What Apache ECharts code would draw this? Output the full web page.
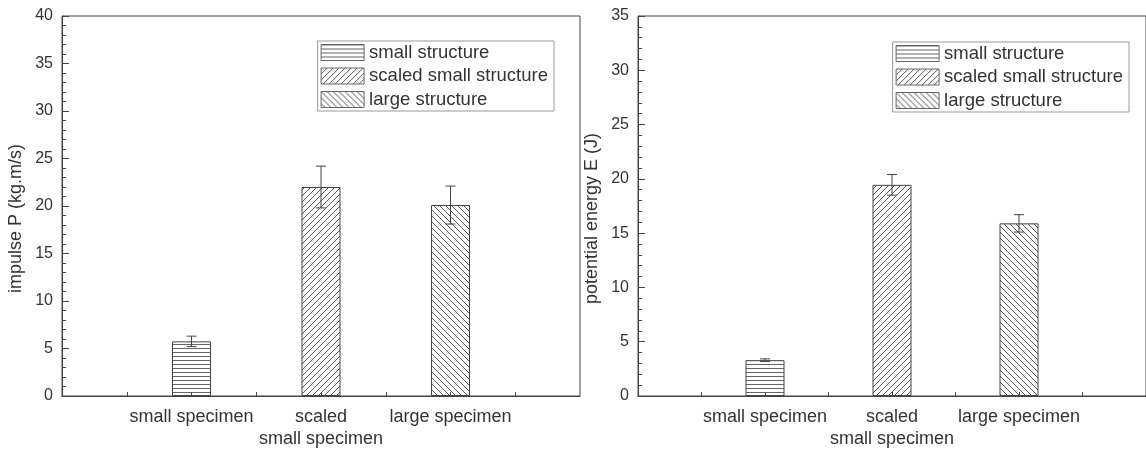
<!DOCTYPE html>
<html>
<head>
<meta charset="utf-8">
<script src="https://cdn.jsdelivr.net/npm/echarts@6/dist/echarts.min.js"></script>
<style>html,body{margin:0;padding:0;background:#fff}#c{width:1146px;height:450px}</style>
</head>
<body>
<div id="c"></div>
<script>
// ---- data ----
const categories = ['small specimen', 'scaled\nsmall specimen', 'large specimen'];
const seriesNames = ['small structure', 'scaled small structure', 'large structure'];
const impulseValues = [5.75, 22.0, 20.1];
const impulseErrors = [0.55, 2.2, 2.0];
const energyValues = [3.3, 19.45, 15.9];
const energyErrors = [0.12, 0.95, 0.8];
const impulseAxis = { min: 0, max: 40, interval: 5, name: 'impulse P (kg.m/s)' };
const energyAxis = { min: 0, max: 35, interval: 5, name: 'potential energy E (J)' };
const xRange = { min: 0, max: 4 };
const xTickValues = [0.5, 1, 1.5, 2, 2.5, 3, 3.5];

// ---- patterns ----
function makePattern(kind) {
  const s = kind === 'h' ? 4 : 6;
  const c = document.createElement('canvas');
  c.width = s; c.height = s;
  const ctx = c.getContext('2d');
  ctx.fillStyle = '#fff';
  ctx.fillRect(0, 0, s, s);
  ctx.strokeStyle = '#555';
  ctx.fillStyle = '#666';
  ctx.lineWidth = 1;
  if (kind === 'h') {
    ctx.fillRect(0, 0, s, 1);
  } else if (kind === 'f') {
    ctx.beginPath();
    ctx.moveTo(0, s); ctx.lineTo(s, 0);
    ctx.moveTo(-1, 1); ctx.lineTo(1, -1);
    ctx.moveTo(s - 1, s + 1); ctx.lineTo(s + 1, s - 1);
    ctx.stroke();
  } else {
    ctx.beginPath();
    ctx.moveTo(0, 0); ctx.lineTo(s, s);
    ctx.moveTo(s - 1, -1); ctx.lineTo(s + 1, 1);
    ctx.moveTo(-1, s - 1); ctx.lineTo(1, s + 1);
    ctx.stroke();
  }
  return { image: c, repeat: 'repeat' };
}
const patterns = [makePattern('h'), makePattern('f'), makePattern('b')];

const FONT = 'Liberation Sans, Arial, sans-serif';
const TXT = '#333';
const LINE = '#444';

const panels = [
  { values: impulseValues, errors: impulseErrors, axis: impulseAxis, left: 62, legendRight: 592, legendTop: 41 },
  { values: energyValues, errors: energyErrors, axis: energyAxis, left: 638, legendRight: 17, legendTop: 42 }
];

const grids = [], xAxes = [], yAxes = [], series = [], legends = [];
panels.forEach((p, pi) => {
  grids.push({ left: p.left, top: 16, width: 518, height: 383, show: true, borderColor: LINE, borderWidth: 1, backgroundColor: 'transparent' });
  xAxes.push({
    type: 'value', gridIndex: pi, min: xRange.min, max: xRange.max, z: 10,
    splitLine: { show: false },
    axisLine: { show: true, onZero: false, lineStyle: { color: LINE, width: 1 } },
    axisTick: { show: true, inside: true, length: 4, customValues: xTickValues, lineStyle: { color: LINE } },
    axisLabel: {
      show: true, customValues: categories.map((c, i) => i + 1),
      formatter: v => categories[Math.round(v) - 1] || '',
      color: TXT, fontSize: 18, fontFamily: FONT, margin: 10, lineHeight: 22
    }
  });
  yAxes.push({
    type: 'value', gridIndex: pi, min: p.axis.min, max: p.axis.max, interval: p.axis.interval, z: 10,
    name: p.axis.name, nameLocation: 'middle', nameGap: 37,
    nameTextStyle: { color: TXT, fontSize: 18, fontFamily: FONT, padding: [0, 25, 0, 0] },
    splitLine: { show: false },
    axisLine: { show: true, lineStyle: { color: LINE, width: 1 } },
    axisTick: { show: true, inside: true, length: 7, lineStyle: { color: LINE } },
    minorTick: { show: true, splitNumber: 5, length: 4, lineStyle: { color: LINE } },
    axisLabel: { color: TXT, fontSize: 16, fontFamily: FONT, margin: 9 }
  });
  seriesNames.forEach((name, i) => {
    series.push({
      name: name, type: 'bar', xAxisIndex: pi, yAxisIndex: pi,
      barWidth: 39, barGap: '-100%',
      data: [[i + 1, p.values[i]]],
      itemStyle: { color: patterns[i], borderColor: LINE, borderWidth: 1 },
      emphasis: { disabled: true }
    });
  });
  series.push({
    type: 'custom', xAxisIndex: pi, yAxisIndex: pi, z: 5,
    data: p.values.map((v, i) => [i + 1, v - p.errors[i], v + p.errors[i]]),
    renderItem: function (params, api) {
      const x = api.value(0);
      const lo = api.coord([x, api.value(1)]);
      const hi = api.coord([x, api.value(2)]);
      const w = 5;
      const st = { stroke: LINE, lineWidth: 1 };
      return {
        type: 'group',
        children: [
          { type: 'line', shape: { x1: hi[0], y1: hi[1], x2: lo[0], y2: lo[1] }, style: st },
          { type: 'line', shape: { x1: hi[0] - w, y1: hi[1], x2: hi[0] + w, y2: hi[1] }, style: st },
          { type: 'line', shape: { x1: lo[0] - w, y1: lo[1], x2: lo[0] + w, y2: lo[1] }, style: st }
        ]
      };
    }
  });
  legends.push({
    data: seriesNames, orient: 'vertical', right: p.legendRight, top: p.legendTop,
    itemWidth: 43, itemHeight: 16, itemGap: 4.5, selectedMode: false,
    padding: [2, 6, 2, 3],
    borderColor: '#999', borderWidth: 1, backgroundColor: '#fff',
    icon: 'rect',
    itemStyle: { borderColor: '#666', borderWidth: 1 },
    textStyle: { color: TXT, fontSize: 18.5, fontFamily: FONT, lineHeight: 16 }
  });
});

const chart = echarts.init(document.getElementById('c'), null, { renderer: 'canvas' });
chart.setOption({
  animation: false,
  backgroundColor: '#fff',
  grid: grids, xAxis: xAxes, yAxis: yAxes, series: series, legend: legends
});
</script>
</body>
</html>
